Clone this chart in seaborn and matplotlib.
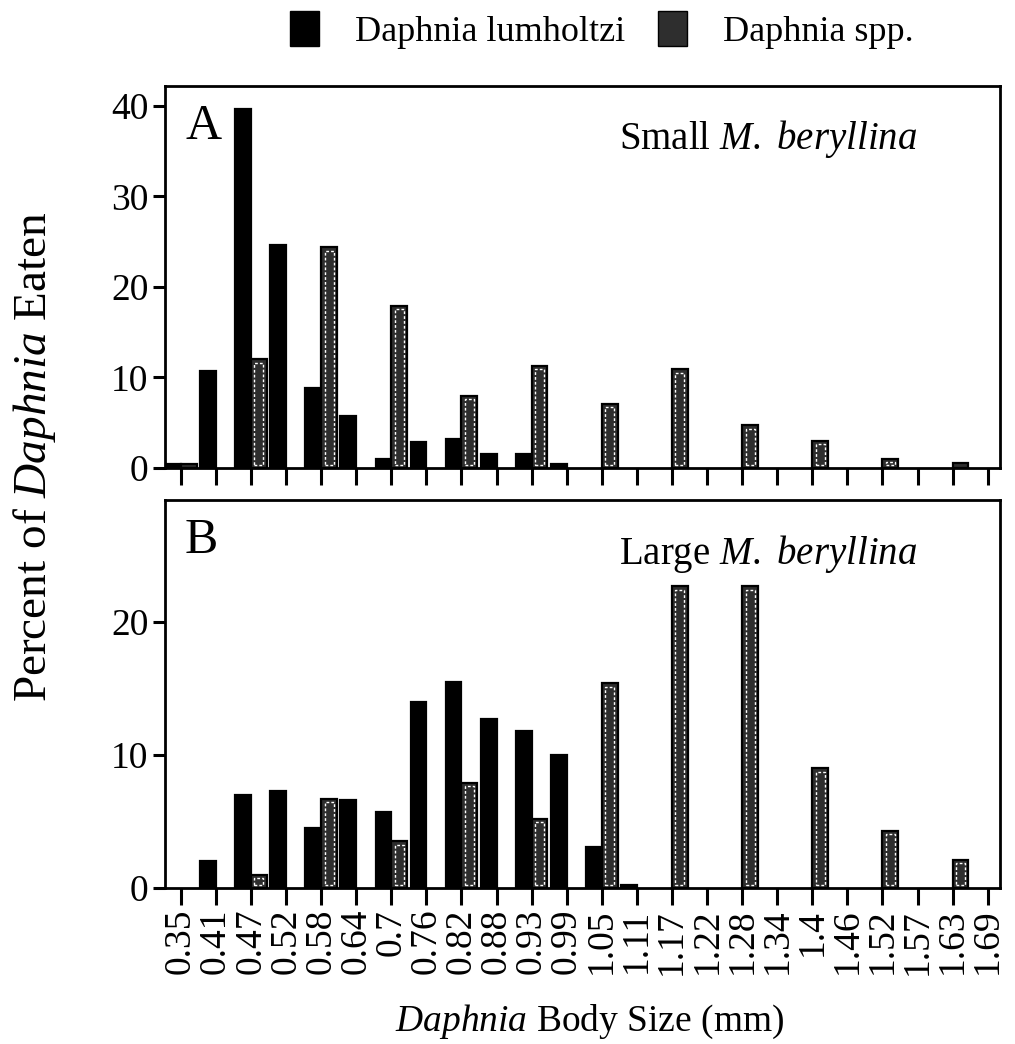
import numpy as np
import pandas as pd
import matplotlib
matplotlib.use("Agg")
import matplotlib.pyplot as plt
from matplotlib.patches import Patch, Rectangle
import seaborn as sns

# ---- data ----
sizes = ["0.35", "0.41", "0.47", "0.52", "0.58", "0.64", "0.7", "0.76", "0.82", "0.88",
         "0.93", "0.99", "1.05", "1.11", "1.17", "1.22", "1.28", "1.34", "1.4", "1.46",
         "1.52", "1.57", "1.63", "1.69"]
species = ["Daphnia lumholtzi", "Daphnia spp."]

small_lumholtzi = [0.4, 10.7, 39.7, 24.6, 8.8, 5.7, 1.0, 2.9, 3.2, 1.6, 1.6, 0.4,
                   0, 0, 0, 0, 0, 0, 0, 0, 0, 0, 0, 0]
small_spp = [0.4, 0, 12.0, 0, 24.4, 0, 17.9, 0, 8.0, 0, 11.3, 0,
             7.1, 0, 10.9, 0, 4.7, 0, 3.0, 0, 1.0, 0, 0.5, 0]
large_lumholtzi = [0, 2.0, 7.0, 7.3, 4.5, 6.6, 5.7, 14.0, 15.5, 12.7, 11.8, 10.0,
                   3.1, 0.25, 0, 0, 0, 0, 0, 0, 0, 0, 0, 0]
large_spp = [0, 0, 1.0, 0, 6.7, 0, 3.5, 0, 7.9, 0, 5.2, 0,
             15.4, 0, 22.7, 0, 22.7, 0, 9.0, 0, 4.3, 0, 2.1, 0]

panel_letters = ["A", "B"]
panel_titles = ["Small $\\mathit{M.\\ beryllina}$", "Large $\\mathit{M.\\ beryllina}$"]
yticks_a = [0, 10, 20, 30, 40]
yticks_b = [0, 10, 20]


def long_frame(lum, spp):
    return pd.DataFrame({
        "size": sizes * 2,
        "species": [species[0]] * len(sizes) + [species[1]] * len(sizes),
        "percent": list(lum) + list(spp),
    })


df_small = long_frame(small_lumholtzi, small_spp)
df_large = long_frame(large_lumholtzi, large_spp)

# ---- style ----
sns.set_theme(style="ticks")
plt.rcParams["font.family"] = ["Liberation Serif", "DejaVu Serif"]
plt.rcParams["mathtext.fontset"] = "custom"
plt.rcParams["mathtext.rm"] = "Liberation Serif"
plt.rcParams["mathtext.it"] = "Liberation Serif:italic"
plt.rcParams["text.color"] = "black"
plt.rcParams["axes.edgecolor"] = "black"

BLACK = "#000000"
DARK = "#2e2e2e"

W, H = 1015, 1044
fig = plt.figure(figsize=(W / 100, H / 100), dpi=100)
ax_a = fig.add_axes([165 / W, 1 - 468 / H, (1000 - 165) / W, (468 - 86) / H])
ax_b = fig.add_axes([165 / W, 1 - 888 / H, (1000 - 165) / W, (888 - 500) / H])

for ax, df, ylim, yt, letter, title in [
    (ax_a, df_small, 42.2, yticks_a, panel_letters[0], panel_titles[0]),
    (ax_b, df_large, 29.2, yticks_b, panel_letters[1], panel_titles[1]),
]:
    sns.barplot(data=df, x="size", y="percent", hue="species", order=sizes,
                hue_order=species, palette=[BLACK, DARK], saturation=1,
                width=0.9, edgecolor="black", linewidth=1.6, legend=False, ax=ax)
    ax.set_xlim(-0.45, len(sizes) - 1 + 0.35)
    ax.set_ylim(0, ylim)
    ax.set_yticks(yt)
    ax.set_xlabel("")
    ax.set_ylabel("")
    for s in ax.spines.values():
        s.set_visible(True)
        s.set_linewidth(2.0)
    ax.tick_params(axis="both", direction="out", width=2.2, color="black",
                   labelsize=27, labelcolor="black")
    ax.tick_params(axis="x", length=12, pad=3)
    ax.tick_params(axis="y", length=9, pad=3)
    ax.text(0.024, 0.955, letter, transform=ax.transAxes, fontsize=36,
            va="top", ha="left")
    ax.text(0.544, 0.915, title, transform=ax.transAxes, fontsize=28,
            va="top", ha="left")

    # hide zero bars, add inner light outline on Daphnia spp. bars
    fig.canvas.draw()
    bbox = ax.get_window_extent()
    x0, x1 = ax.get_xlim()
    dx_px = (x1 - x0) / bbox.width
    dy_px = ylim / bbox.height
    for cont_i, cont in enumerate(ax.containers):
        for p in cont.patches:
            h = p.get_height()
            if h <= 0:
                p.set_visible(False)
                continue
            if cont_i == 1:
                ix, iy = 3.4 * dx_px, 3.4 * dy_px
                if p.get_width() > 2 * ix and h > 2 * iy:
                    ax.add_patch(Rectangle((p.get_x() + ix, p.get_y() + iy),
                                           p.get_width() - 2 * ix, h - 2 * iy,
                                           fill=False, edgecolor="white",
                                           linewidth=1.0, linestyle=(0, (2, 1.5)),
                                           zorder=p.get_zorder() + 0.1))

ax_a.set_xticklabels([])
ax_b.set_xticklabels(sizes, rotation=90)

fig.text(0.034, (1 - 457 / H), "Percent of $\\mathit{Daphnia}$ Eaten", rotation=90,
         fontsize=34, va="center", ha="center")
fig.text(590 / W, 1 - 1022 / H, "$\\mathit{Daphnia}$ Body Size (mm)",
         fontsize=27, va="center", ha="center")

handles = [Patch(facecolor=BLACK, edgecolor="black"),
           Patch(facecolor=DARK, edgecolor="black")]
fig.legend(handles, species, loc="center", bbox_to_anchor=(602 / W, 1 - 30 / H),
           ncol=2, frameon=False, fontsize=26, handlelength=0.8, handleheight=1.1,
           handletextpad=1.0, columnspacing=0.9)

fig.savefig("out.png", dpi=100)
